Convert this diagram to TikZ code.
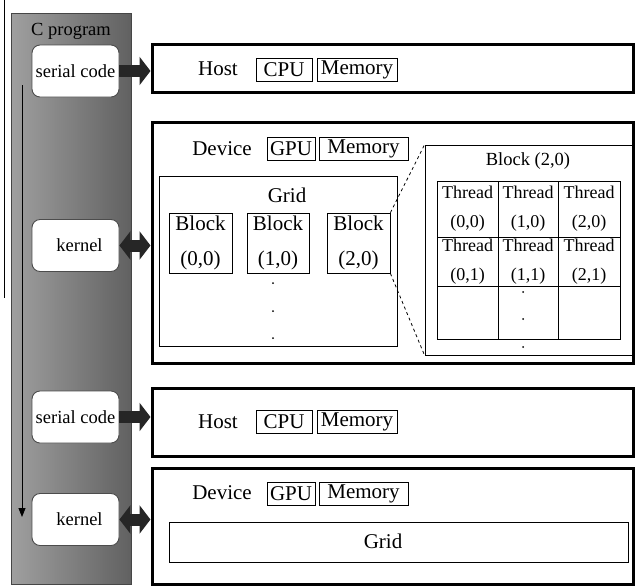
\documentclass[tikz,border=0pt]{standalone}
\usepackage{fontspec}
\setmainfont{Liberation Serif}
\usetikzlibrary{arrows.meta}
\begin{document}
\begin{tikzpicture}[x=1pt,y=-1pt,
  big/.style={font=\fontsize{21}{25}\selectfont},
  small/.style={font=\fontsize{18.5}{22}\selectfont},
  outer/.style={draw, line width=3pt, inner sep=0pt},
  thinbox/.style={draw, line width=0.8pt, inner sep=0pt, big},
  rbox/.style={draw=gray!60!black, fill=white, rounded corners=8pt, line width=0.9pt,
    minimum width=87, minimum height=52, inner sep=0pt, small},
  cell/.style={draw, line width=0.8pt, inner sep=0pt, align=center,
    font=\fontsize{18}{29}\selectfont},
  blk/.style={draw, line width=0.8pt, inner sep=0pt, align=center,
    minimum height=60, font=\fontsize{21}{35}\selectfont},
  bigarrow/.style={line width=12pt, draw=black!85, -{Triangle[length=11pt,width=28pt]}},
  dblarrow/.style={line width=12pt, draw=black!85, {Triangle[length=11pt,width=28pt]}-{Triangle[length=11pt,width=28pt]}},
  dot/.style={circle, fill=black, inner sep=0pt, minimum size=2pt}
]
\useasboundingbox (0,0) rectangle (636,587);
% stray thin line at left
\coordinate (lt) at (4,0);
\coordinate (lb) at (4,298);
\draw[line width=0.9pt] (lt) -- (lb);
% left panel
\node[draw=gray!55!black, line width=0.8pt, left color=gray!75, middle color=gray!20, right color=black!62,
  minimum width=120, minimum height=571, inner sep=0pt] (panel) at (71,298.5) {};
\node[small] (cprog) at (71,31) {C program};
\coordinate (flowtop) at (22,85);
\coordinate (flowbot) at (22,517);
\draw[line width=0.9pt, -{Triangle[length=9pt,width=7pt]}] (flowtop) -- (flowbot);
\node[rbox] (sc1) at (75.5,71) {serial code};
\node[rbox] (k1) at (75.5,245.5) {\hspace*{8pt}kernel};
\node[rbox] (sc2) at (75.5,417) {serial code};
\node[rbox] (k2) at (75.5,519.5) {\hspace*{8pt}kernel};

% Host 1
\node[outer, minimum width=481, minimum height=48] (host1) at (392.5,68) {};
\node[big] (h1) at (218,69) {Host};
\node[thinbox, minimum width=56, minimum height=23] (cpu1) at (284,69.5) {CPU};
\node[thinbox, minimum width=80, minimum height=23] (mem1) at (357,69.5) {Memory};

% Device 1
\node[outer, minimum width=481, minimum height=241] (dev1) at (392.5,242.5) {};
\node[big] (d1) at (222,149) {Device};
\node[thinbox, minimum width=48, minimum height=23] (gpu1) at (291,148.5) {GPU};
\node[thinbox, minimum width=89, minimum height=23] (dmem1) at (363.5,148.5) {Memory};
\node[draw, line width=0.8pt, minimum width=238, minimum height=170, inner sep=0pt] (grid1) at (278,261) {};
\node[big] (g1lbl) at (287,195) {Grid};
\node[blk, minimum width=63] (b00) at (200.5,243) {Block\\(0,0)};
\node[blk, minimum width=62] (b10) at (278,243) {Block\\(1,0)};
\node[blk, minimum width=63] (b20) at (358.5,243) {Block\\(2,0)};
\node[dot] (gd1) at (273,283) {};
\node[dot] (gd2) at (273,311) {};
\node[dot] (gd3) at (273,338) {};

% zoomed block
\node[draw, line width=0.8pt, minimum width=207, minimum height=210, inner sep=0pt] (zoom) at (528.5,250) {};
\node[small] (zlbl) at (528,161) {Block (2,0)};
\node[cell, minimum width=61, minimum height=56] (t00) at (467.5,209) {Thread\\(0,0)};
\node[cell, minimum width=60, minimum height=56] (t10) at (528,209) {Thread\\(1,0)};
\node[cell, minimum width=62, minimum height=56] (t20) at (589,209) {Thread\\(2,0)};
\node[cell, minimum width=61, minimum height=49] (t01) at (467.5,261.5) {Thread\\(0,1)};
\node[cell, minimum width=60, minimum height=49] (t11) at (528,261.5) {Thread\\(1,1)};
\node[cell, minimum width=62, minimum height=49] (t21) at (589,261.5) {Thread\\(2,1)};
\node[cell, minimum width=61, minimum height=53] (t02) at (467.5,312.5) {};
\node[cell, minimum width=60, minimum height=53] (t12) at (528,312.5) {};
\node[cell, minimum width=62, minimum height=53] (t22) at (589,312.5) {};
\node[dot] (zd1) at (523,292) {};
\node[dot] (zd2) at (523,319) {};
\node[dot] (zd3) at (523,347) {};
\draw[dashed, line width=0.8pt] (b20.north east) -- (zoom.north west);
\draw[dashed, line width=0.8pt] (b20.south east) -- (zoom.south west);

% Host 2
\node[outer, minimum width=481, minimum height=68] (host2) at (392.5,422) {};
\node[big] (h2) at (218,422) {Host};
\node[thinbox, minimum width=56, minimum height=23] (cpu2) at (284,421.5) {CPU};
\node[thinbox, minimum width=80, minimum height=23] (mem2) at (357,421.5) {Memory};

% Device 2
\node[outer, minimum width=481, minimum height=116] (dev2) at (392.5,526) {};
\node[big] (d2) at (222,493) {Device};
\node[thinbox, minimum width=48, minimum height=23] (gpu2) at (291,493.5) {GPU};
\node[thinbox, minimum width=89, minimum height=23] (dmem2) at (363.5,493.5) {Memory};
\node[draw, line width=0.8pt, minimum width=459, minimum height=40, inner sep=0pt] (grid2) at (398.5,542) {};
\node[big] (g2lbl) at (383,541) {Grid};

% connectors
\draw[bigarrow] (sc1.east) -- (sc1.east -| host1.west);
\draw[dblarrow] (k1.east) -- (k1.east -| dev1.west);
\draw[bigarrow] (sc2.east) -- (sc2.east -| host2.west);
\draw[dblarrow] (k2.east) -- (k2.east -| dev2.west);
\end{tikzpicture}
\end{document}
